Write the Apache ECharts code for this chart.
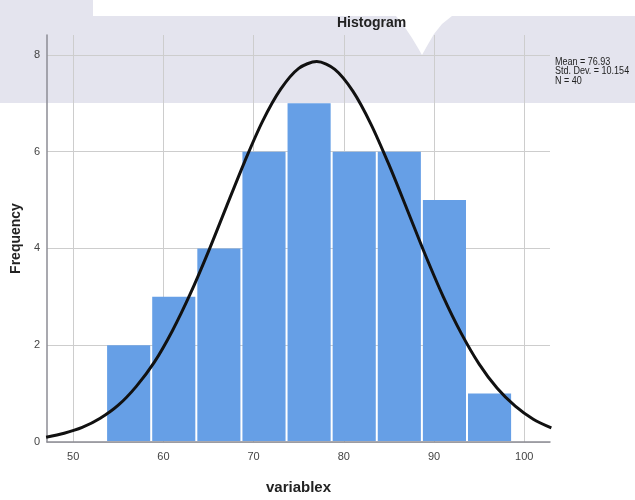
<!DOCTYPE html>
<html>
<head>
<meta charset="utf-8">
<script src="https://cdn.jsdelivr.net/npm/echarts@6/dist/echarts.min.js"></script>
<style>html,body{margin:0;padding:0;background:#fff}#c{width:635px;height:500px}</style>
</head>
<body>
<div id="c"></div>
<script>
// Histogram bins (edges) and frequencies
const binEdges = [53.65, 58.65, 63.65, 68.65, 73.65, 78.65, 83.65, 88.65, 93.65, 98.65];
const counts = [2, 3, 4, 6, 7, 6, 6, 5, 1];
// Normal curve
const curveX = [47, 49, 51, 53, 55, 57, 59, 61, 63, 65, 67, 69, 71, 73, 75, 77, 79, 81, 83, 85, 87, 89, 91, 93, 95, 97, 99, 101, 103];
const curveY = [0.10, 0.18, 0.30, 0.49, 0.76, 1.15, 1.65, 2.30, 3.07, 3.94, 4.87, 5.79, 6.63, 7.29, 7.72, 7.86, 7.70, 7.25, 6.57, 5.73, 4.81, 3.88, 3.01, 2.25, 1.61, 1.11, 0.74, 0.47, 0.29];
const xTicks = [50, 60, 70, 80, 90, 100];
const statsLines = ['Mean = 76.93', 'Std. Dev. = 10.154', 'N = 40'];

const barData = counts.map((c, i) => [binEdges[i], binEdges[i + 1], c]);
const lineData = curveX.map((x, i) => [x, curveY[i]]);

const chart = echarts.init(document.getElementById('c'), null, {renderer: 'canvas'});
chart.setOption({
  backgroundColor: '#ffffff',
  animation: false,
  title: {
    text: 'Histogram',
    left: 332, top: 11,
    textStyle: {fontFamily: 'Liberation Sans', fontSize: 14, fontWeight: 'bold', color: '#222'}
  },
  graphic: [
    {type: 'rect', z: -100, shape: {x: 0, y: 0, width: 635, height: 103}, style: {fill: '#e4e4ee'}},
    {type: 'rect', z: -99, shape: {x: 93, y: 0, width: 542, height: 16}, style: {fill: '#ffffff'}},
    {type: 'polygon', z: -99, shape: {points: [[396, 16], [404, 26], [412, 38], [418, 48], [422, 55], [427, 46], [434, 34], [442, 24], [452, 16]]}, style: {fill: '#ffffff'}},
    {type: 'text', x: 555, y: 57, scaleX: 0.9, style: {text: statsLines.join('\n'), fontFamily: 'Liberation Sans', fontSize: 10, lineHeight: 9.5, fill: '#222'}}
  ],
  grid: {left: 47, right: 85, top: 35, bottom: 51, containLabel: false},
  xAxis: {
    type: 'value', min: 47.1, max: 102.85,
    name: 'variablex', nameLocation: 'middle', nameGap: 38,
    nameTextStyle: {fontFamily: 'Liberation Sans', fontSize: 15, fontWeight: 'bold', color: '#222'},
    axisLine: {show: true, lineStyle: {color: '#8c8c94', width: 1.5}},
    axisTick: {show: false, customValues: xTicks},
    axisLabel: {customValues: xTicks, margin: 9, fontFamily: 'Liberation Sans', fontSize: 11, color: '#444'},
    splitLine: {show: true, lineStyle: {color: '#cdcdcd', width: 1}}
  },
  yAxis: {
    type: 'value', min: 0, max: 8.41, interval: 2,
    name: 'Frequency', nameLocation: 'middle', nameGap: 20,
    nameTextStyle: {fontFamily: 'Liberation Sans', fontSize: 14, fontWeight: 'bold', color: '#222'},
    axisLine: {show: true, lineStyle: {color: '#8c8c94', width: 1.5}},
    axisTick: {show: false},
    axisLabel: {showMaxLabel: false, margin: 7, fontFamily: 'Liberation Sans', fontSize: 11, color: '#444'},
    splitLine: {show: true, showMaxLine: false, lineStyle: {color: '#cdcdcd', width: 1}}
  },
  series: [
    {
      type: 'custom',
      data: barData,
      encode: {x: [0, 1], y: 2},
      renderItem: function (params, api) {
        const p0 = api.coord([api.value(0), api.value(2)]);
        const p1 = api.coord([api.value(1), 0]);
        return {
          type: 'rect',
          shape: {x: p0[0] + 1, y: p0[1], width: p1[0] - p0[0] - 2, height: p1[1] - p0[1] - 1},
          style: {fill: '#669fe6'}
        };
      },
      z: 2
    },
    {
      type: 'line',
      data: lineData,
      smooth: 0.3,
      symbol: 'none',
      lineStyle: {color: '#111111', width: 3},
      z: 3
    }
  ]
});
</script>
</body>
</html>
